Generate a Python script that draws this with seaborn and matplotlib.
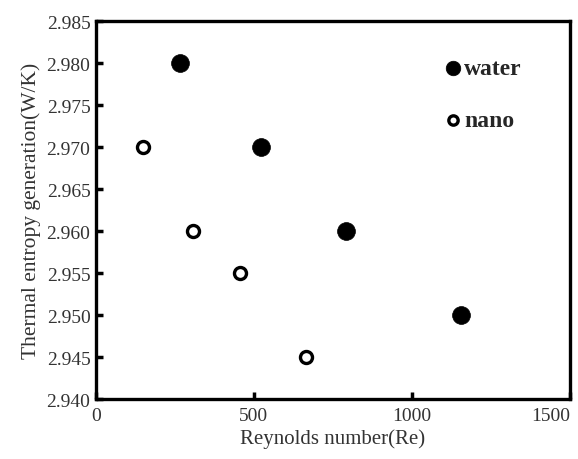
import matplotlib
matplotlib.use("Agg")
import matplotlib.pyplot as plt
import seaborn as sns
import pandas as pd

water_re = [266, 522, 791, 1155]
water_s = [2.980, 2.970, 2.960, 2.950]
nano_re = [149, 307, 456, 665]
nano_s = [2.970, 2.960, 2.955, 2.945]
x_ticks = [0, 500, 1000, 1500]
y_ticks = [2.940, 2.945, 2.950, 2.955, 2.960, 2.965, 2.970, 2.975, 2.980, 2.985]

sns.set_style("ticks")
plt.rcParams['font.family'] = ['Liberation Serif', 'DejaVu Serif']

water = pd.DataFrame({"Re": water_re, "S": water_s})
nano = pd.DataFrame({"Re": nano_re, "S": nano_s})

fig = plt.figure(figsize=(5.78, 4.6), dpi=100)
ax = fig.add_axes([0.166, 0.1304, 0.820, 0.8216])

sns.scatterplot(data=water, x="Re", y="S", ax=ax, s=165, color="black",
                edgecolor="black", linewidth=0.5, label="water", zorder=3)
sns.scatterplot(data=nano, x="Re", y="S", ax=ax, s=75, facecolor="white",
                edgecolor="black", linewidth=2.4, label="nano", zorder=3)

ax.set_xlim(0, 1500)
ax.set_ylim(2.940, 2.985)
ax.set_xticks(x_ticks)
ax.set_yticks(y_ticks)
ax.set_xticklabels([str(v) for v in x_ticks])
ax.set_yticklabels([f"{v:.3f}" for v in y_ticks])
ax.tick_params(which="major", direction="in", length=5, width=2.5, labelsize=14,
               color="black", labelcolor="#333333",
               bottom=True, left=True, top=False, right=False)
ax.tick_params(axis="x", pad=6)
ax.tick_params(axis="y", pad=4)
xl = ax.get_xticklabels()
xl[-1].set_horizontalalignment("right")
for sp in ax.spines.values():
    sp.set_visible(True)
    sp.set_linewidth(2.4)
    sp.set_color("black")
    sp.set_zorder(1)

ax.set_xlabel("Reynolds number(Re)", fontsize=15, color="#333333", labelpad=3)
ax.set_ylabel("Thermal entropy generation(W/K)", fontsize=15.5, color="#333333", labelpad=4)

leg = ax.legend(loc="upper left", bbox_to_anchor=(0.672, 0.96), frameon=False,
                handletextpad=-0.3, labelspacing=1.3, handlelength=1.5,
                prop={"weight": "bold", "size": 17, "family": "Liberation Serif"})
leg.legend_handles[0].set_sizes([110])
leg.legend_handles[1].set_sizes([45])

fig.savefig("out.png", dpi=100)
